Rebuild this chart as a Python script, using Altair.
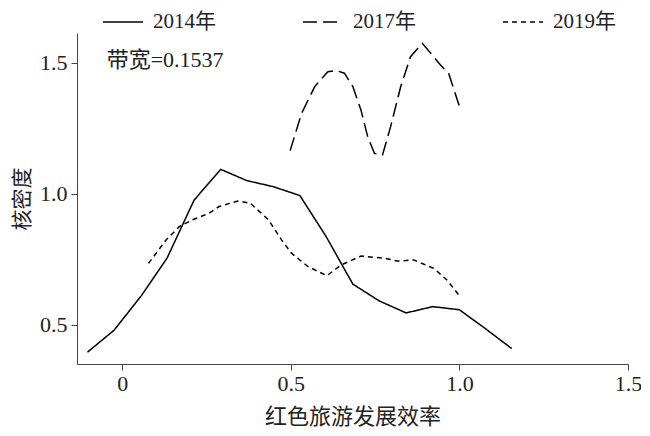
import altair as alt
import pandas as pd

# ---- data ----
years = ["2014年", "2017年", "2019年"]

x2014 = [-0.103, -0.024, 0.057, 0.133, 0.213, 0.292, 0.370, 0.448, 0.527,
         0.605, 0.684, 0.762, 0.842, 0.921, 1.000, 1.076, 1.155]
y2014 = [0.396, 0.480, 0.612, 0.755, 0.976, 1.094, 1.051, 1.028, 0.994,
         0.837, 0.656, 0.592, 0.546, 0.570, 0.558, 0.487, 0.410]

x2017 = [0.498, 0.532, 0.571, 0.610, 0.635, 0.659, 0.684, 0.708, 0.728, 0.748,
         0.772, 0.796, 0.826, 0.855, 0.890, 0.919, 0.944, 0.968, 1.001]
y2017 = [1.165, 1.308, 1.410, 1.467, 1.471, 1.461, 1.410, 1.321, 1.219, 1.155,
         1.149, 1.257, 1.410, 1.524, 1.575, 1.531, 1.492, 1.461, 1.331]

x2019 = [0.078, 0.130, 0.169, 0.208, 0.257, 0.287, 0.343, 0.380, 0.434, 0.473,
         0.502, 0.551, 0.607, 0.649, 0.708, 0.777, 0.816, 0.865, 0.924, 0.963, 0.998]
y2019 = [0.735, 0.824, 0.875, 0.901, 0.926, 0.952, 0.973, 0.965, 0.901, 0.824,
         0.774, 0.723, 0.688, 0.729, 0.763, 0.755, 0.744, 0.748, 0.716, 0.672, 0.615]

x_ticks = [0, 0.5, 1.0, 1.5]
y_ticks = [0.5, 1.0, 1.5]
x_domain = [-0.134, 1.5]
y_domain = [0.351, 1.6145]

bandwidth_label = "带宽=0.1537"
bandwidth_pos = (-0.046, 1.511)

rows = []
for yr, xs, ys in [("2014年", x2014, y2014), ("2017年", x2017, y2017), ("2019年", x2019, y2019)]:
    for i, (a, b) in enumerate(zip(xs, ys)):
        rows.append({"year": yr, "x": a, "y": b, "order": i})
df = pd.DataFrame(rows)

FONT = "Liberation Serif, Noto Sans CJK SC"
AX = "#444444"
TXT = "#222222"
FS = 22

x_scale = alt.Scale(domain=x_domain, nice=False, zero=False)
y_scale = alt.Scale(domain=y_domain, nice=False, zero=False)

lines = alt.Chart(df).mark_line(color="black", strokeWidth=1.5).encode(
    x=alt.X("x:Q", scale=x_scale,
            axis=alt.Axis(title="红色旅游发展效率", values=x_ticks,
                          labelExpr="datum.value == 0 ? '0' : format(datum.value, '.1f')",
                          grid=False, domainColor=AX, tickColor=AX, tickSize=6,
                          labelFont=FONT, labelFontSize=FS, labelColor=TXT,
                          labelPadding=3, titleFont=FONT, titleFontSize=FS,
                          titleFontWeight="normal", titleColor=TXT, titlePadding=12,
                          labelFlush=False)),
    y=alt.Y("y:Q", scale=y_scale,
            axis=alt.Axis(title="核密度", values=y_ticks, format=".1f",
                          grid=False, domainColor=AX, tickColor=AX, tickSize=6,
                          labelFont=FONT, labelFontSize=FS, labelColor=TXT,
                          labelPadding=4, titleFont=FONT, titleFontSize=21,
                          titleFontWeight="normal", titleColor=TXT, titlePadding=7,
                          labelFlush=False)),
    strokeDash=alt.StrokeDash(
        "year:N",
        scale=alt.Scale(domain=years, range=[[1, 0], [14, 6], [5, 4]]),
        legend=alt.Legend(
            title=None, orient="none", direction="horizontal", columns=3,
            legendX=25, legendY=-32, symbolType="stroke", symbolSize=1600,
            symbolStrokeColor="black", symbolStrokeWidth=1.5,
            labelFont=FONT, labelFontSize=21, labelColor=TXT, labelOffset=9,
            columnPadding=84, padding=0,
        ),
    ),
    order="order:Q",
    detail="year:N",
)

ann = alt.Chart(pd.DataFrame({"x": [bandwidth_pos[0]], "y": [bandwidth_pos[1]],
                              "t": [bandwidth_label]})).mark_text(
    align="left", baseline="middle", font=FONT, fontSize=FS, color=TXT
).encode(x=alt.X("x:Q", scale=x_scale), y=alt.Y("y:Q", scale=y_scale), text="t:N")

chart = alt.layer(lines, ann).properties(
    width=551, height=331,
    autosize=alt.AutoSizeParams(type="none"),
    padding={"left": 69, "top": 25, "right": 13, "bottom": 63},
).configure(background="white").configure_view(stroke=None)

chart.save("out.html", embed_options={"renderer": "svg", "actions": False})
